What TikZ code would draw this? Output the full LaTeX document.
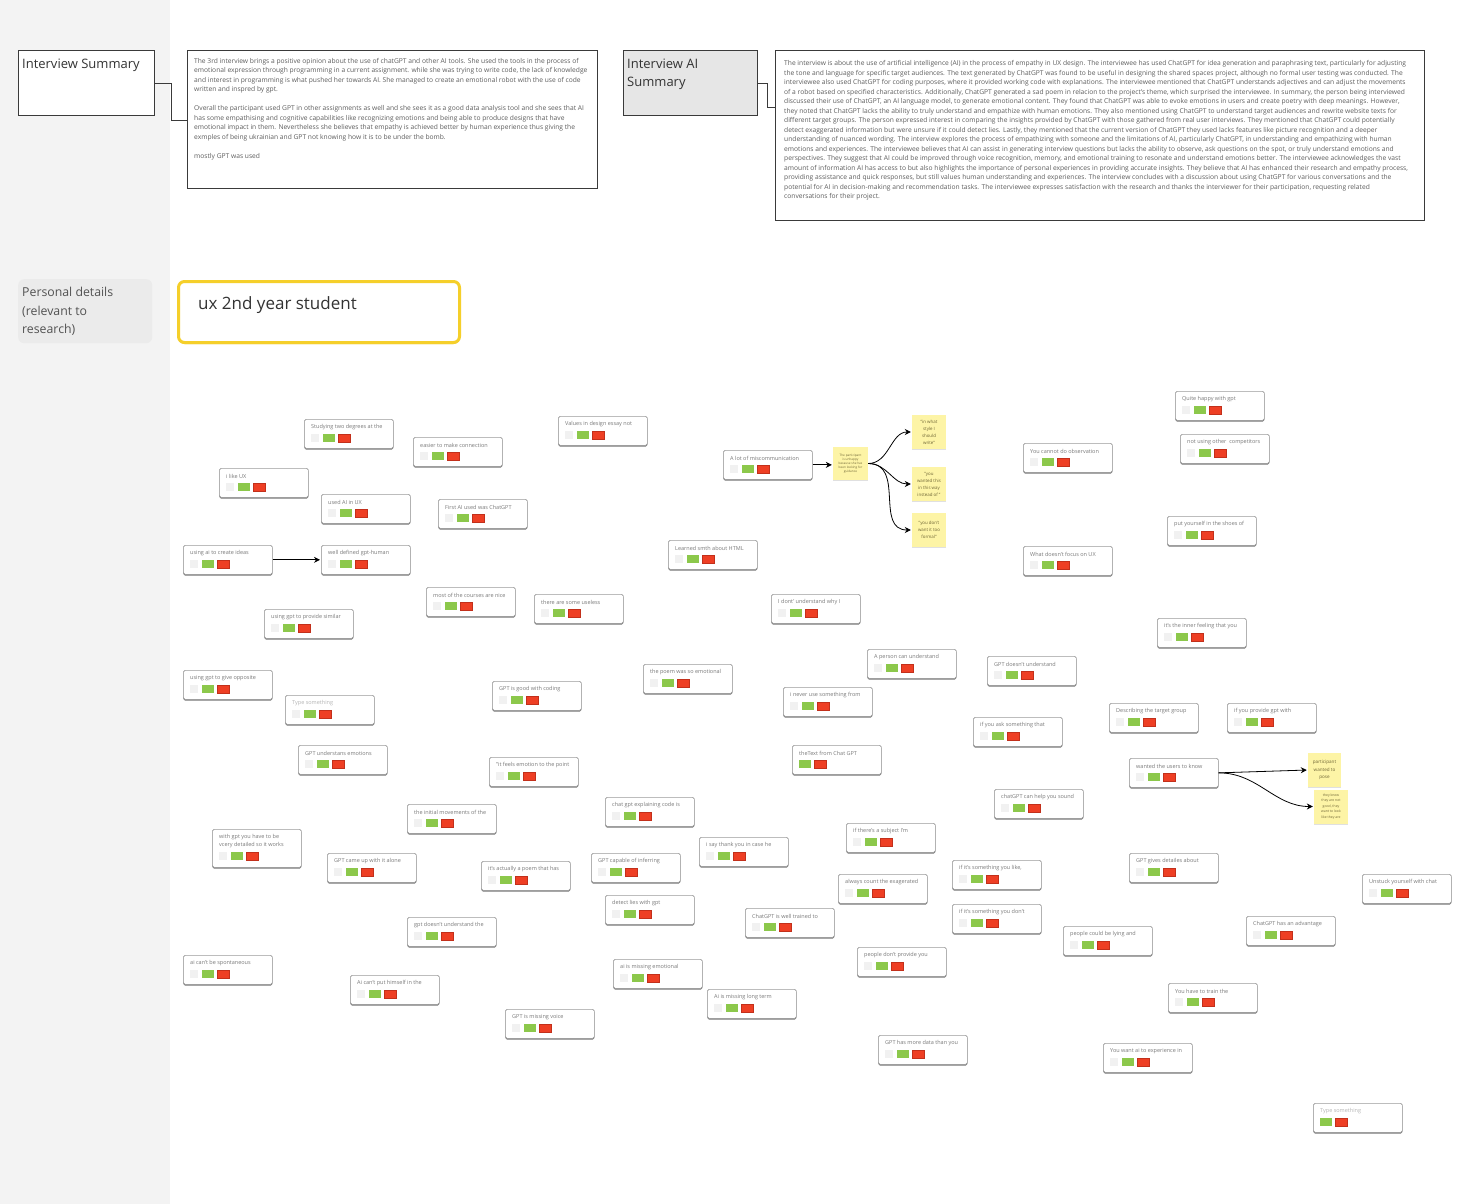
\documentclass[tikz,border=0pt]{standalone}
\usepackage{fontspec}
\setmainfont{Open Sans}
\usetikzlibrary{arrows.meta,shadows,calc}

\definecolor{stripgray}{HTML}{F3F3F3}
\definecolor{headedge}{HTML}{3A3A3A}
\definecolor{aifill}{HTML}{E6E6E6}
\definecolor{pdfill}{HTML}{EBEBEB}
\definecolor{uxyellow}{HTML}{F5CF2A}
\definecolor{cardedge}{HTML}{9A9A9A}
\definecolor{cardshade}{HTML}{6A6A6A}
\definecolor{cardink}{HTML}{7A7A7A}
\definecolor{placeink}{HTML}{B5B5B5}
\definecolor{ghostsq}{HTML}{F1F1F1}
\definecolor{votegreen}{HTML}{8CC84B}
\definecolor{votered}{HTML}{EE3F24}
\definecolor{voteredrim}{HTML}{C2301B}
\definecolor{stickyfill}{HTML}{FDF4A6}
\definecolor{stickyink}{HTML}{6E6535}
\definecolor{bodyink}{HTML}{5E5E5E}
\definecolor{headink}{HTML}{333333}

\tikzset{
  headbox/.style={draw=headedge, line width=0.9pt, anchor=north west, inner sep=0pt},
  headtext/.style={anchor=north west, inner sep=0pt, align=left, text=headink,
    font=\fontsize{12.5}{18.5}\selectfont},
  bodytext/.style={anchor=north west, inner sep=0pt, align=left, text=bodyink,
    font=\fontsize{6.68}{9.5}\selectfont},
  card/.style={draw=cardedge, line width=0.7pt, fill=white, rounded corners=1.6pt,
    anchor=north west, inner sep=0pt, minimum width=89pt, minimum height=29pt,
    drop shadow={shadow xshift=0pt, shadow yshift=-1.3pt, fill=cardshade, opacity=0.9}},
  tallcard/.style={card, minimum height=38pt},
  cardtext/.style={anchor=west, inner sep=0pt, text=cardink, font=\fontsize{5.5}{8}\selectfont},
  ghost/.style={fill=ghostsq},
  okbox/.style={fill=votegreen},
  nobox/.style={fill=votered, draw=voteredrim, line width=0.5pt},
  sticky/.style={fill=stickyfill, inner sep=0pt, align=center, text=stickyink,
    minimum width=34pt, minimum height=34pt,
    drop shadow={shadow xshift=0pt, shadow yshift=-1pt, fill=black, opacity=0.12}},
  arr/.style={draw=black, line width=0.8pt, -{Stealth[length=6pt, width=6pt]}, shorten >=1pt},
  link/.style={draw=headedge, line width=0.8pt},
}

% voting row of a card: faint square, green and red chips
\newcommand\votes[2]{%
  \fill[ghost] ([shift={(7,#2)}]#1.north west) rectangle ++(8,8);
  \fill[okbox] ([shift={(19,#2)}]#1.north west) rectangle ++(12,8);
  \filldraw[nobox] ([shift={(34,#2)}]#1.north west) rectangle ++(12,8);
}
% voting row without the faint square
\newcommand\votesplain[2]{%
  \fill[okbox] ([shift={(7,#2)}]#1.north west) rectangle ++(12,8);
  \filldraw[nobox] ([shift={(22,#2)}]#1.north west) rectangle ++(12,8);
}
% a one-line card: name, x, y, text
\newcommand\kcard[4]{%
  \node[card] (#1) at (#2,#3) {};
  \node[cardtext] at ([shift={(7,8.3)}]#1.north west) {#4};
  \votes{#1}{15}
}

\begin{document}
\begin{tikzpicture}[x=1pt, y=-1pt]
\useasboundingbox (0,0) rectangle (1476,1204);
\fill[white] (0,0) rectangle (1476,1204);
\fill[stripgray] (0,0) rectangle (170,1204);

% ---------- summaries ----------
\node[headbox, fill=white, minimum width=136pt, minimum height=65pt] (sumhead) at (18,50) {};
\node[headtext, font=\fontsize{13}{18.5}\selectfont] at ([shift={(4,8.5)}]sumhead.north west) {Interview Summary};

\node[headbox, fill=white, minimum width=410pt, minimum height=138pt] (sumbody) at (187,50) {};
\node[bodytext] at (194,58) {%
The 3rd interview brings a positive opinion about the use of chatGPT and other AI tools. She used the tools in the process of\\
emotional expression through programming in a current assignment. while she was trying to write code, the lack of knowledge\\
and interest in programming is what pushed her towards AI. She managed to create an emotional robot with the use of code\\
written and inspred by gpt.\\[9.5pt]
Overall the participant used GPT in other assignments as well and she sees it as a good data analysis tool and she sees that AI\\
has some empathising and cognitive capabilities like recognizing emotions and being able to produce designs that have\\
emotional impact in them. Nevertheless she believes that empathy is achieved better by human experience thus giving the\\
exmples of being ukrainian and GPT not knowing how it is to be under the bomb.\\[9.5pt]
mostly GPT was used};

\draw[link] (sumhead.east) -- ++(16,0) |- ([yshift=-70pt]sumbody.north west);

\node[headbox, fill=aifill, minimum width=134pt, minimum height=65pt] (aihead) at (623,50) {};
\node[headtext, font=\fontsize{13}{18.5}\selectfont] at ([shift={(4,8.5)}]aihead.north west) {Interview AI\\Summary};

\node[headbox, fill=white, minimum width=649pt, minimum height=170pt] (aibody) at (775,50) {};
\node[bodytext] at (784,60.5) {%
The interview is about the use of artificial intelligence (AI) in the process of empathy in UX design. The interviewee has used ChatGPT for idea generation and paraphrasing text, particularly for adjusting\\
the tone and language for specific target audiences. The text generated by ChatGPT was found to be useful in designing the shared spaces project, although no formal user testing was conducted. The\\
interviewee also used ChatGPT for coding purposes, where it provided working code with explanations. The interviewee mentioned that ChatGPT understands adjectives and can adjust the movements\\
of a robot based on specified characteristics. Additionally, ChatGPT generated a sad poem in relacion to the project's theme, which surprised the interviewee. In summary, the person being interviewed\\
discussed their use of ChatGPT, an AI language model, to generate emotional content. They found that ChatGPT was able to evoke emotions in users and create poetry with deep meanings. However,\\
they noted that ChatGPT lacks the ability to truly understand and empathize with human emotions. They also mentioned using ChatGPT to understand target audiences and rewrite website texts for\\
different target groups. The person expressed interest in comparing the insights provided by ChatGPT with those gathered from real user interviews. They mentioned that ChatGPT could potentially\\
detect exaggerated information but were unsure if it could detect lies. Lastly, they mentioned that the current version of ChatGPT they used lacks features like picture recognition and a deeper\\
understanding of nuanced wording. The interview explores the process of empathizing with someone and the limitations of AI, particularly ChatGPT, in understanding and empathizing with human\\
emotions and experiences. The interviewee believes that AI can assist in generating interview questions but lacks the ability to observe, ask questions on the spot, or truly understand emotions and\\
perspectives. They suggest that AI could be improved through voice recognition, memory, and emotional training to resonate and understand emotions better. The interviewee acknowledges the vast\\
amount of information AI has access to but also highlights the importance of personal experiences in providing accurate insights. They believe that AI has enhanced their research and empathy process,\\
providing assistance and quick responses, but still values human understanding and experiences. The interview concludes with a discussion about using ChatGPT for various conversations and the\\
potential for AI in decision-making and recommendation tasks. The interviewee expresses satisfaction with the research and thanks the interviewer for their participation, requesting related\\
conversations for their project.};

\draw[link] (aihead.east) -- ++(9,0) |- ([yshift=-57pt]aibody.north west);

% ---------- personal details ----------
\node[fill=pdfill, rounded corners=6pt, anchor=north west, minimum width=134pt, minimum height=64pt] (pdbox) at (18,279) {};
\node[headtext, font=\fontsize{12.3}{18.5}\selectfont, text=headink!85] at ([shift={(4,8)}]pdbox.north west) {Personal details\\(relevant to\\research)};

\node[draw=uxyellow, line width=3pt, fill=white, rounded corners=6pt, anchor=north west,
  minimum width=281pt, minimum height=61pt,
  drop shadow={shadow xshift=0pt, shadow yshift=-1.5pt, fill=uxyellow, opacity=1}] (uxbox) at (177,280) {};
\node[anchor=west, inner sep=0pt, text=headink, font=\fontsize{17}{20}\selectfont] at ([shift={(21,25.5)}]uxbox.north west) {ux 2nd year student};

% ---------- cards ----------
\kcard{c01}{304}{419}{Studying two degrees at the}
\kcard{c02}{413}{437}{easier to make connection}
\kcard{c03}{558}{416}{Values in design essay not}
\kcard{c04}{723}{450}{A lot of miscommunication}
\kcard{c05}{1023}{443}{You cannot do observation}
\kcard{c06}{1175}{391}{Quite happy with gpt}
\kcard{c07}{1180}{434}{not using other\ \ competitors}
\kcard{c08}{219}{468}{i like UX}
\kcard{c09}{321}{494}{used AI in UX}
\kcard{c10}{438}{499}{First AI used was ChatGPT}
\kcard{c11}{183}{545}{using ai to create ideas}
\kcard{c12}{321}{545}{well defined gpt-human}
\kcard{c13}{668}{540}{Learned smth about HTML}
\kcard{c14}{1167}{516}{put yourself in the shoes of}
\kcard{c15}{1023}{546}{What doesn't focus on UX}
\kcard{c16}{426}{587}{most of the courses are nice}
\kcard{c17}{534}{594}{there are some useless}
\kcard{c18}{771}{594}{I dont' understand why I}
\kcard{c19}{264}{609}{using gpt to provide similar}
\kcard{c20}{1157}{618}{it's the inner feeling that you}
\kcard{c21}{867}{649}{A person can understand}
\kcard{c22}{987}{656}{GPT doesn't understand}
\kcard{c23}{643}{664}{the poem was so emotional}
\kcard{c24}{183}{670}{using gpt to give opposite}
\kcard{c25}{492}{681}{GPT is good with coding}
\kcard{c26}{783}{687}{i never use something from}
\node[card] (c27) at (285,695) {};
\node[cardtext, text=placeink] at ([shift={(7,8.3)}]c27.north west) {Type something};
\votes{c27}{15}
\kcard{c28}{1109}{703}{Describing the target group}
\kcard{c29}{1227}{703}{if you provide gpt with}
\kcard{c30}{973}{717}{if you ask something that}
\kcard{c31}{298}{745}{GPT understans emotions}
\node[card] (c32) at (792,745) {};
\node[cardtext] at ([shift={(7,8.3)}]c32.north west) {theText from Chat GPT};
\votesplain{c32}{15}
\kcard{c33}{489}{757}{"it feels emotion to the point}
\kcard{c34}{1129}{758}{wanted the users to know}
\kcard{c35}{994}{789}{chatGPT can help you sound}
\kcard{c36}{605}{797}{chat gpt explaining code is}
\kcard{c37}{407}{804}{the initial movements of the}
\kcard{c38}{846}{823}{if there's a subject I'm}
\node[tallcard] (c39) at (212,829) {};
\node[cardtext, anchor=north west, align=left] at ([shift={(7,5)}]c39.north west) {with gpt you have to be\\vcery detailed so it works};
\votes{c39}{23}
\kcard{c40}{699}{837}{i say thank you in case he}
\kcard{c41}{327}{853}{GPT came up with it alone}
\kcard{c42}{591}{853}{GPT capable of inferring}
\kcard{c43}{1129}{853}{GPT gives detailes about}
\kcard{c44}{952}{860}{if it's something you like,}
\kcard{c45}{481}{861}{it's actually a poem that has}
\kcard{c46}{838}{874}{always count the exagerated}
\kcard{c47}{1362}{874}{Unstuck yourself with chat}
\kcard{c48}{605}{895}{detect lies with gpt}
\kcard{c49}{952}{904}{if it's something you don't}
\kcard{c50}{745}{908}{ChatGPT is well trained to}
\kcard{c51}{1246}{916}{ChatGPT has an advantage}
\kcard{c52}{407}{917}{gpt doesn't understand the}
\kcard{c53}{1063}{926}{people could be lying and}
\kcard{c54}{857}{947}{people don't provide you}
\kcard{c55}{183}{955}{ai can't be spontaneous}
\kcard{c56}{613}{959}{ai is missing emotional}
\kcard{c57}{350}{975}{Ai can't put himself in the}
\kcard{c58}{1168}{983}{You have to train the}
\kcard{c59}{707}{989}{Ai is missing long term}
\kcard{c60}{505}{1009}{GPT is missing voice}
\kcard{c61}{878}{1035}{GPT has more data than you}
\kcard{c62}{1103}{1043}{You want ai to experience in}
\node[card] (c63) at (1313,1103) {};
\node[cardtext, text=placeink] at ([shift={(7,8.3)}]c63.north west) {Type something};
\votesplain{c63}{15}

% ---------- sticky notes ----------
\node[sticky, minimum width=35pt, minimum height=33pt, font=\fontsize{3.1}{4.1}\selectfont] (s1) at (850.5,463.5)
  {The participant\\is unhappy\\because she has\\been looking for\\guidance};
\node[sticky, font=\fontsize{4.4}{7}\selectfont] (s2) at (929,432) {"in what\\style I\\should\\write"};
\node[sticky, font=\fontsize{4.4}{7}\selectfont] (s3) at (929,484) {"you\\wanted this\\in this way\\instead of "};
\node[sticky, font=\fontsize{4.4}{7}\selectfont] (s4) at (929,530) {"you don't\\want it too\\formal"};
\node[sticky, minimum width=33pt, font=\fontsize{4.6}{7.3}\selectfont] (s5) at (1324.5,770) {participant\\wanted to\\pose};
\node[sticky, font=\fontsize{3.4}{5.4}\selectfont] (s6) at (1331,806.5) {they know\\they are not\\good, they\\want to look\\like they are};

% ---------- connectors ----------
\draw[arr] (c11.east) -- (c12.west);
\draw[arr] (c04.east) -- (s1.west |- c04.east);
\draw[arr] (s1.east) to[out=0, in=180] (s2.west);
\draw[arr] (s1.east) to[out=0, in=180] (s3.west);
\draw[arr] (s1.east) to[out=0, in=180, looseness=1.2] (s4.west);
\draw[arr] (c34.east) -- (s5.west);
\draw[arr] (c34.east) to[out=0, in=180] (s6.west);
\end{tikzpicture}
\end{document}
